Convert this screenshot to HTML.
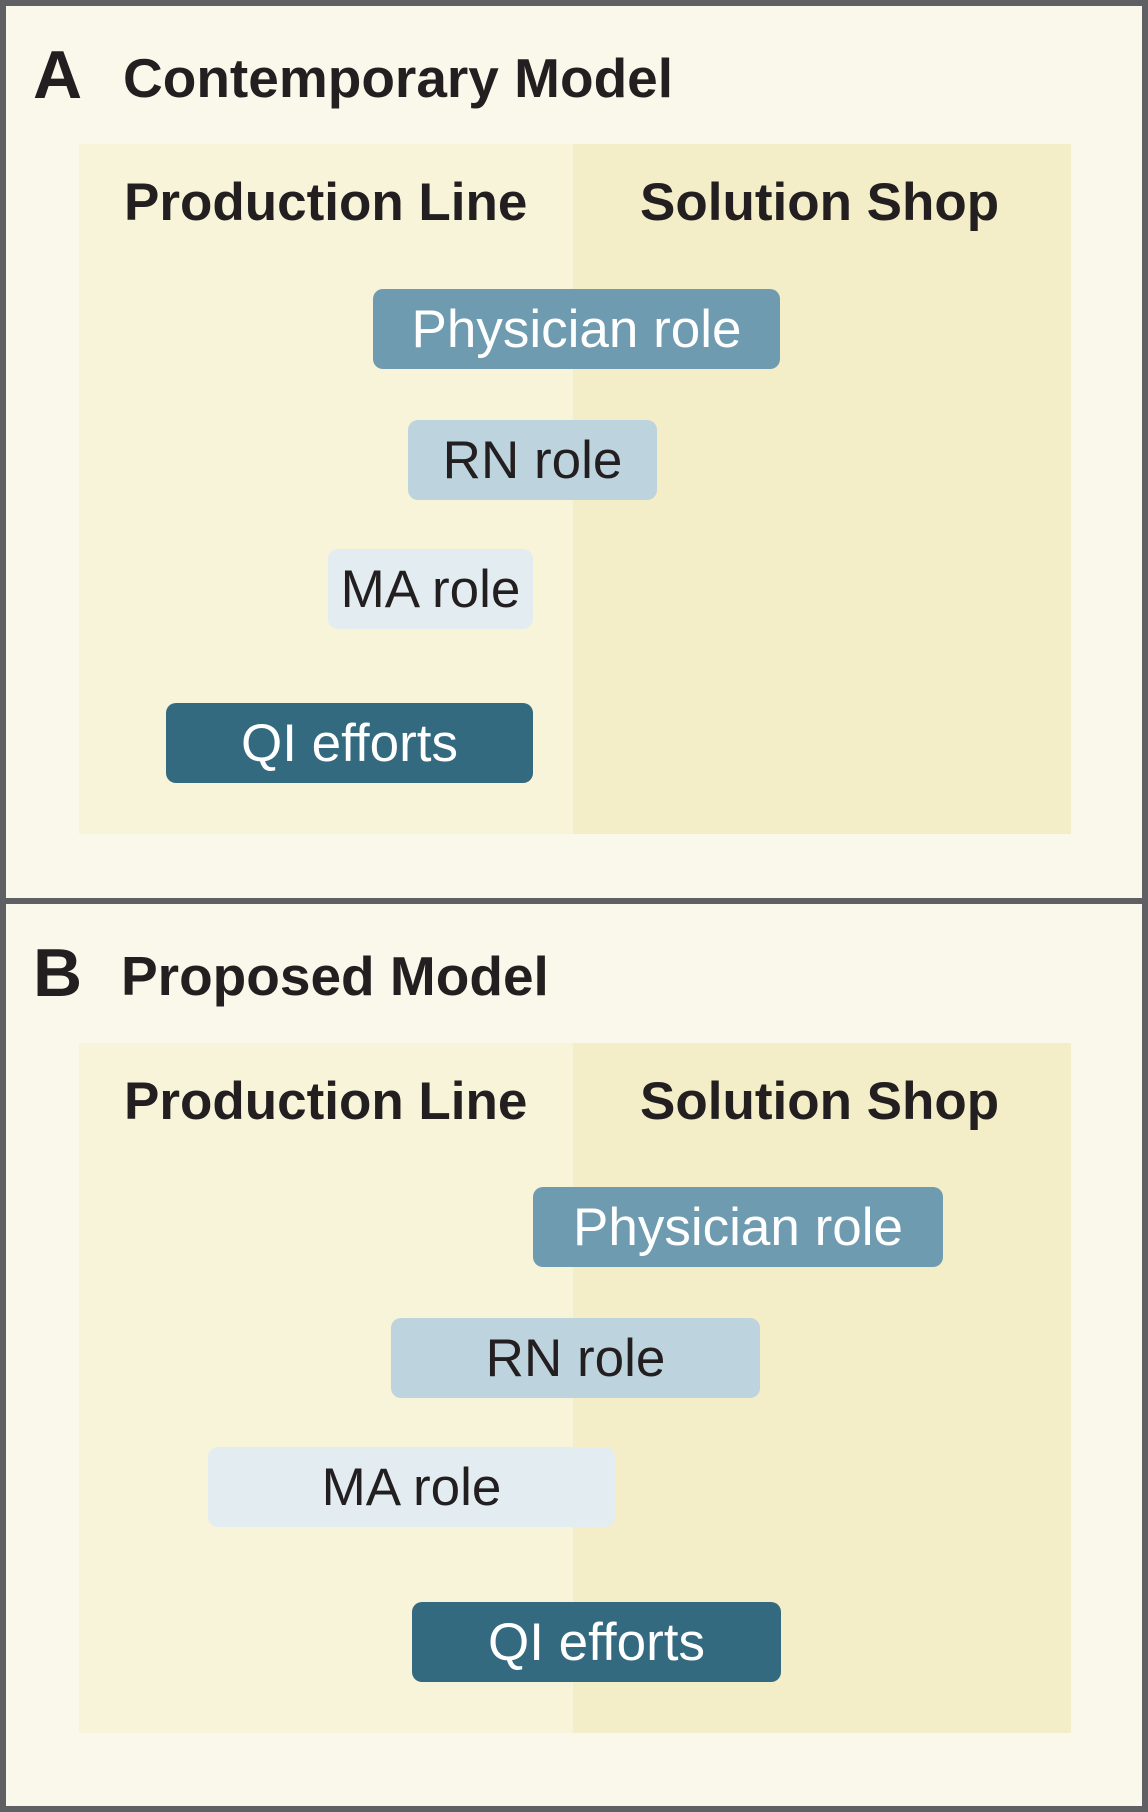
<!DOCTYPE html>
<html><head><meta charset="utf-8"><style>
body{margin:0;width:1148px;height:1812px;background:#fbf9eb;font-family:"Liberation Sans",sans-serif;position:relative;overflow:hidden}
.frame{position:absolute;left:0;width:1136px;border:6px solid #5f6064;background:#faf8ea}
.t{position:absolute;font-weight:bold;color:#231f20;white-space:nowrap}
.inner{position:absolute;left:79px;width:992px;height:690px;background:#f8f4da}
.inner .r{position:absolute;left:494px;top:0;width:498px;height:100%;background:#f3eec7}
.h{position:absolute;font-weight:bold;font-size:53px;color:#231f20;white-space:nowrap;line-height:1}
.b{position:absolute;height:80px;border-radius:10px;display:flex;align-items:center;justify-content:center;font-size:53px;white-space:nowrap}
.p{background:#6f9bb0;color:#fff}
.rn{background:#bdd3dd;color:#231f20}
.ma{background:#e3ecf0;color:#231f20}
.qi{background:#336a80;color:#fff}
</style></head><body>
<div class="frame" style="top:0;height:892px"></div>
<div class="frame" style="top:898px;height:902px"></div>

<div class="t" style="left:33px;top:40px;font-size:68px;line-height:70px">A</div>
<div class="t" style="left:123px;top:45px;font-size:55px;line-height:66px">Contemporary Model</div>
<div class="inner" style="top:144px"><div class="r"></div></div>
<div class="h" style="left:124px;top:176px">Production Line</div>
<div class="h" style="left:640px;top:176px">Solution Shop</div>
<div class="b p" style="left:373px;top:289px;width:407px">Physician role</div>
<div class="b rn" style="left:408px;top:420px;width:249px">RN role</div>
<div class="b ma" style="left:328px;top:549px;width:205px">MA role</div>
<div class="b qi" style="left:166px;top:703px;width:367px">QI efforts</div>

<div class="t" style="left:33px;top:938px;font-size:68px;line-height:70px">B</div>
<div class="t" style="left:121px;top:943px;font-size:55px;line-height:66px">Proposed Model</div>
<div class="inner" style="top:1043px"><div class="r"></div></div>
<div class="h" style="left:124px;top:1075px">Production Line</div>
<div class="h" style="left:640px;top:1075px">Solution Shop</div>
<div class="b p" style="left:533px;top:1187px;width:410px">Physician role</div>
<div class="b rn" style="left:391px;top:1318px;width:369px">RN role</div>
<div class="b ma" style="left:208px;top:1447px;width:407px">MA role</div>
<div class="b qi" style="left:412px;top:1602px;width:369px">QI efforts</div>
</body></html>
